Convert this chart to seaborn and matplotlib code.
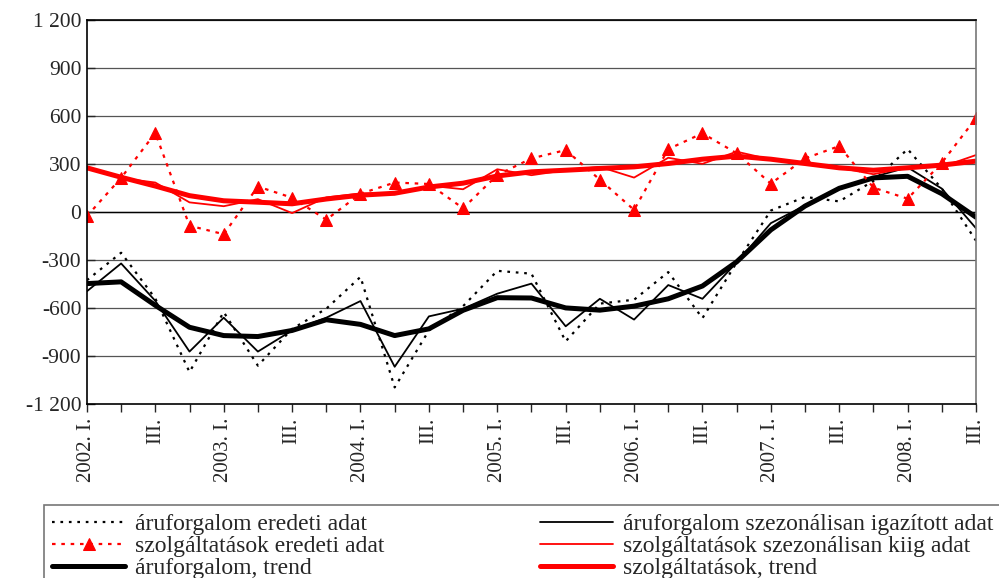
import matplotlib
matplotlib.use("Agg")
import matplotlib.pyplot as plt
import seaborn as sns
import pandas as pd
from matplotlib.ticker import FuncFormatter

# --- data (quarterly, 2002 Q1 .. 2008 Q3) ---
quarters = list(range(27))
tick_labels = []
for year in range(2002, 2009):
    tick_labels += [f"{year}. I.", "", "III.", ""]
tick_labels = tick_labels[:27]

aru_eredeti = [-426, -254, -540, -1000, -625, -960, -730, -604, -405, -1096, -740, -588, -367,
               -385, -808, -572, -548, -375, -663, -315, 10, 95, 67, 195, 394, 147, -179]
aru_sa = [-495, -321, -555, -872, -660, -872, -740, -660, -556, -967, -652, -604, -510,
          -447, -714, -542, -672, -456, -542, -315, -69, 42, 147, 220, 280, 147, -101]
aru_trend = [-447, -436, -583, -720, -772, -778, -740, -673, -702, -772, -730, -614, -535,
             -537, -599, -613, -588, -542, -462, -311, -111, 38, 149, 214, 224, 115, -32]
szolg_eredeti = [-25, 214, 495, -85, -138, 160, 90, -47, 115, 185, 176, 24, 232,
                 336, 388, 203, 14, 394, 493, 368, 178, 336, 413, 153, 84, 309, 588]
szolg_sa = [283, 213, 185, 61, 37, 81, -6, 92, 117, 112, 166, 143, 268,
            231, 262, 283, 216, 340, 302, 378, 329, 300, 277, 237, 278, 283, 357]
szolg_trend = [277, 218, 163, 103, 71, 62, 52, 82, 106, 118, 157, 181, 226,
               252, 262, 273, 283, 304, 331, 350, 331, 304, 277, 262, 277, 294, 319]

labels = ["áruforgalom eredeti adat",
          "szolgáltatások eredeti adat",
          "áruforgalom, trend",
          "áruforgalom szezonálisan igazított adat",
          "szolgáltatások szezonálisan kiig adat",
          "szolgáltatások, trend"]

df = pd.DataFrame({"q": quarters, "aru_e": aru_eredeti, "aru_sa": aru_sa, "aru_t": aru_trend,
                   "sz_e": szolg_eredeti, "sz_sa": szolg_sa, "sz_t": szolg_trend})

sns.set_style("white")
plt.rcParams["font.family"] = ["Liberation Serif", "DejaVu Serif"]

fig = plt.figure(figsize=(9.99, 5.78), dpi=100)
ax = fig.add_axes([0.087, 0.301, 0.890, 0.664])

red = "#ff0000"
# black first, red on top
h_aru_e = sns.lineplot(data=df, x="q", y="aru_e", ax=ax, color="black", lw=1.6,
                       linestyle=(0, (1.2, 2.6))).lines[-1]
h_aru_sa = sns.lineplot(data=df, x="q", y="aru_sa", ax=ax, color="black", lw=1.3).lines[-1]
h_aru_t = sns.lineplot(data=df, x="q", y="aru_t", ax=ax, color="black", lw=3.6).lines[-1]
h_sz_e = sns.lineplot(data=df, x="q", y="sz_e", ax=ax, color=red, lw=1.6,
                      linestyle=(0, (1.6, 2.6)), marker="^", markersize=8,
                      markeredgecolor=red).lines[-1]
h_sz_sa = sns.lineplot(data=df, x="q", y="sz_sa", ax=ax, color=red, lw=1.3).lines[-1]
h_sz_t = sns.lineplot(data=df, x="q", y="sz_t", ax=ax, color=red, lw=3.6).lines[-1]

ax.set_xlim(0, 26)
ax.set_ylim(-1200, 1200)
ax.set_yticks(range(-1200, 1201, 300))
ax.yaxis.set_major_formatter(FuncFormatter(lambda v, p: f"{int(v):,}".replace(",", " ")))
ax.set_xticks(quarters)
ax.set_xticklabels(tick_labels, rotation=90, va="top", ha="center")
ax.set_xlabel("")
ax.set_ylabel("")

for y in range(-900, 1201, 300):
    ax.axhline(y, color="#555555", lw=0.9, zorder=0)
ax.axhline(0, color="black", lw=1.0, zorder=0)

ax.tick_params(axis="x", direction="out", length=6, width=1, labelsize=15, pad=4, bottom=True)
ax.tick_params(axis="y", direction="in", length=6, width=1, labelsize=15.5, pad=4, left=True)
for side in ["left", "bottom", "top"]:
    ax.spines[side].set_color("black")
    ax.spines[side].set_linewidth(1.2)
ax.spines["right"].set_color("#777777")
ax.spines["right"].set_linewidth(1.2)

handles = [h_aru_e, h_sz_e, h_aru_t, h_aru_sa, h_sz_sa, h_sz_t]
leg = fig.legend(handles, labels, loc="upper left", bbox_to_anchor=(44 / 999, 1 - 505 / 578),
                 ncol=2, fontsize=17, frameon=True, fancybox=False, borderaxespad=0,
                 handlelength=3.1, handletextpad=0.4, columnspacing=6.6,
                 labelspacing=0.02, borderpad=0.35, numpoints=1)
leg.get_frame().set_edgecolor("#555555")
leg.get_frame().set_linewidth(1.2)

fig.savefig("out.png", dpi=100)
